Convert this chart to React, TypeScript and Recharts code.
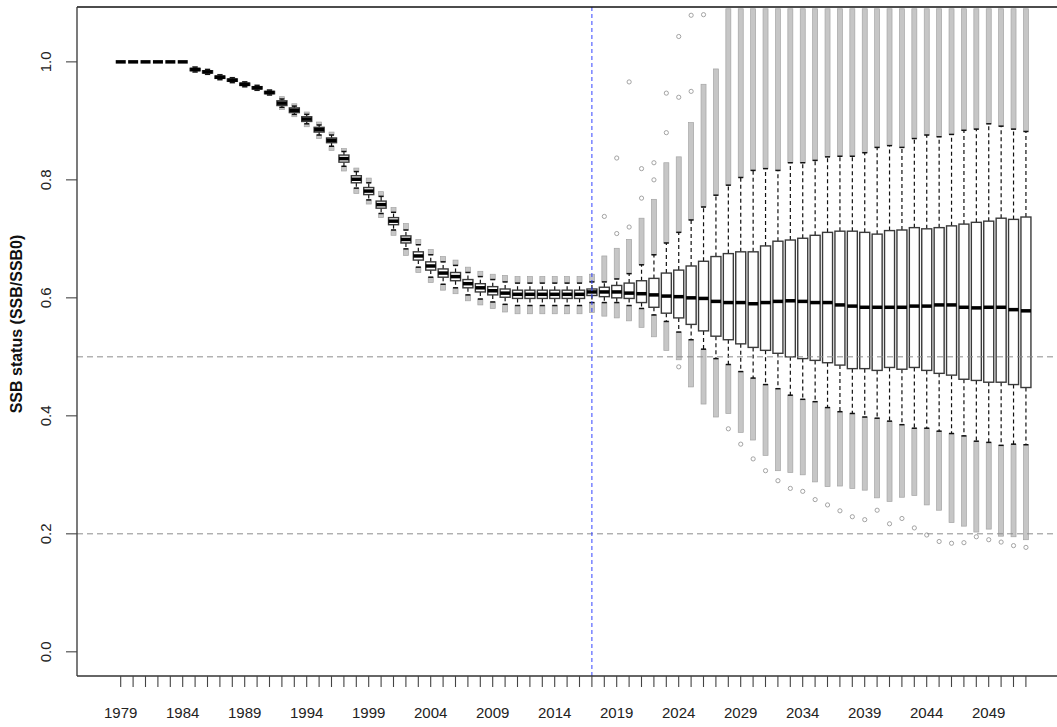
import { ComposedChart, Bar, XAxis, YAxis, ReferenceLine } from "recharts";

const YEARS = Array.from({ length: 74 }, (_, i) => 1979 + i);

// SSB/SSB0 quantiles by year (historic fit 1979-2016, projection 2017-2052)
const MEDIAN = [
  1.0, 1.0, 1.0, 1.0, 1.0, 1.0,
  0.987, 0.983, 0.974, 0.969, 0.962, 0.956, 0.948,
  0.93, 0.918, 0.903, 0.885, 0.867,
  0.836, 0.801, 0.781, 0.758, 0.73, 0.699,
  0.671, 0.654, 0.642, 0.636, 0.624, 0.617, 0.612, 0.608, 0.606, 0.606, 0.606, 0.606, 0.606, 0.606,
  0.61, 0.61, 0.61, 0.608, 0.607, 0.605, 0.603, 0.602, 0.6, 0.599,
  0.594, 0.592, 0.592, 0.59, 0.592, 0.594, 0.595, 0.594, 0.592, 0.592,
  0.588, 0.586, 0.584, 0.584, 0.584, 0.584, 0.586, 0.586, 0.588, 0.588,
  0.584, 0.583, 0.584, 0.584, 0.58, 0.578,
];

const Q3 = [
  1.0, 1.0, 1.0, 1.0, 1.0, 1.0,
  0.989, 0.985, 0.976, 0.971, 0.964, 0.958, 0.95,
  0.934, 0.922, 0.907, 0.889, 0.871,
  0.842, 0.807, 0.787, 0.764, 0.736, 0.705,
  0.678, 0.661, 0.649, 0.643, 0.631, 0.624, 0.619, 0.615, 0.613, 0.613, 0.613, 0.613, 0.613, 0.613,
  0.615, 0.618, 0.621, 0.625, 0.629, 0.633, 0.642, 0.647, 0.654, 0.662,
  0.67, 0.675, 0.678, 0.678, 0.688, 0.696, 0.698, 0.701, 0.706, 0.711,
  0.713, 0.713, 0.711, 0.708, 0.714, 0.715, 0.719, 0.717, 0.719, 0.722,
  0.725, 0.728, 0.73, 0.735, 0.733, 0.737,
];

const Q1 = [
  1.0, 1.0, 1.0, 1.0, 1.0, 1.0,
  0.985, 0.981, 0.972, 0.967, 0.96, 0.954, 0.946,
  0.926, 0.914, 0.899, 0.881, 0.863,
  0.83, 0.795, 0.775, 0.752, 0.724, 0.693,
  0.664, 0.647, 0.635, 0.629, 0.617, 0.61, 0.605, 0.601, 0.599, 0.599, 0.599, 0.599, 0.599, 0.599,
  0.604, 0.602, 0.6, 0.599, 0.592, 0.584, 0.574, 0.566, 0.555, 0.544,
  0.535, 0.529, 0.522, 0.516, 0.511, 0.506, 0.5, 0.497, 0.494, 0.49,
  0.486, 0.48, 0.48, 0.477, 0.482, 0.479, 0.482, 0.477, 0.472, 0.469,
  0.462, 0.46, 0.457, 0.457, 0.453, 0.448,
];

const WHISKER_HI = [
  1.0, 1.0, 1.0, 1.0, 1.0, 1.0,
  0.991, 0.987, 0.978, 0.973, 0.966, 0.96, 0.952,
  0.937, 0.925, 0.911, 0.893, 0.876,
  0.848, 0.814, 0.795, 0.772, 0.745, 0.715,
  0.69, 0.673, 0.661, 0.655, 0.643, 0.636, 0.631, 0.627, 0.625, 0.625, 0.625, 0.625, 0.625, 0.625,
  0.627, 0.627, 0.632, 0.641, 0.656, 0.673, 0.693, 0.711, 0.732, 0.754,
  0.774, 0.791, 0.804, 0.816, 0.819, 0.816, 0.829, 0.829, 0.833, 0.839,
  0.84, 0.84, 0.846, 0.855, 0.858, 0.855, 0.87, 0.876, 0.873, 0.877,
  0.884, 0.886, 0.895, 0.891, 0.886, 0.882,
];

const WHISKER_LO = [
  1.0, 1.0, 1.0, 1.0, 1.0, 1.0,
  0.983, 0.979, 0.97, 0.965, 0.958, 0.952, 0.944,
  0.923, 0.911, 0.895, 0.876, 0.857,
  0.823, 0.786, 0.766, 0.743, 0.715, 0.683,
  0.652, 0.635, 0.623, 0.617, 0.605, 0.598, 0.593, 0.589, 0.587, 0.587, 0.587, 0.587, 0.587, 0.587,
  0.592, 0.592, 0.592, 0.587, 0.582, 0.571, 0.56, 0.542, 0.529, 0.513,
  0.497, 0.487, 0.475, 0.464, 0.453, 0.446, 0.435, 0.428, 0.424, 0.414,
  0.407, 0.404, 0.398, 0.396, 0.391, 0.385, 0.379, 0.379, 0.374, 0.37,
  0.366, 0.357, 0.355, 0.35, 0.352, 0.351,
];

// extent of the dense run of outliers above / below the whiskers
const OUT_HI = [
  1.0, 1.0, 1.0, 1.0, 1.0, 1.0,
  0.992, 0.988, 0.979, 0.974, 0.967, 0.961, 0.953,
  0.941, 0.929, 0.915, 0.898, 0.881,
  0.853, 0.82, 0.803, 0.78, 0.753, 0.726,
  0.699, 0.682, 0.67, 0.664, 0.652, 0.645, 0.64, 0.638, 0.636, 0.636, 0.636, 0.636, 0.636, 0.636,
  0.64, 0.671, 0.684, 0.699, 0.735, 0.767, 0.829, 0.839, 0.897, 0.962,
  0.988, 1.09, 1.09, 1.09, 1.09, 1.09, 1.09, 1.09, 1.09, 1.09,
  1.09, 1.09, 1.09, 1.09, 1.09, 1.09, 1.09, 1.09, 1.09, 1.09,
  1.09, 1.09, 1.09, 1.09, 1.09, 1.09,
];

const OUT_LO = [
  1.0, 1.0, 1.0, 1.0, 1.0, 1.0,
  0.982, 0.978, 0.969, 0.964, 0.957, 0.951, 0.943,
  0.919, 0.907, 0.89, 0.87, 0.85,
  0.815, 0.777, 0.759, 0.736, 0.706, 0.672,
  0.643, 0.626, 0.613, 0.607, 0.595, 0.588, 0.582, 0.576, 0.573, 0.573, 0.573, 0.573, 0.573, 0.573,
  0.575, 0.569, 0.566, 0.561, 0.55, 0.534, 0.511, 0.495, 0.449, 0.42,
  0.398, 0.404, 0.372, 0.359, 0.333, 0.307, 0.304, 0.3, 0.288, 0.28,
  0.281, 0.277, 0.274, 0.261, 0.255, 0.262, 0.265, 0.249, 0.24, 0.219,
  0.213, 0.203, 0.208, 0.196, 0.195, 0.19,
];

// isolated extreme outliers [year, value]
const SPARSE: [number, number][] = [
  [2018, 0.738], [2019, 0.709], [2019, 0.837], [2020, 0.72], [2020, 0.966],
  [2021, 0.769], [2021, 0.819], [2022, 0.8], [2022, 0.829], [2023, 0.88],
  [2023, 0.947], [2024, 0.94], [2024, 1.043], [2024, 0.483], [2025, 0.95],
  [2025, 1.079], [2026, 1.08], [2028, 0.378], [2029, 0.352], [2030, 0.327],
  [2031, 0.307], [2032, 0.29], [2033, 0.277], [2034, 0.272], [2035, 0.258],
  [2036, 0.249], [2037, 0.239], [2038, 0.229], [2039, 0.224], [2040, 0.24],
  [2041, 0.217], [2042, 0.226], [2043, 0.21], [2044, 0.198], [2045, 0.187],
  [2046, 0.184], [2047, 0.185], [2048, 0.195], [2049, 0.19], [2050, 0.186],
  [2051, 0.18], [2052, 0.177],
];

const Y_TICKS = [0, 0.2, 0.4, 0.6, 0.8, 1.0];
const LIMIT_LINES = [0.5, 0.2];
const PROJECTION_START = 2017;

const Y_MIN = -0.041;
const Y_MAX = 1.093;

const FONT = "'Liberation Sans', Arial, Helvetica, sans-serif";

const rows = YEARS.map((year, i) => ({
  year,
  med: MEDIAN[i],
  q1: Q1[i],
  q3: Q3[i],
  wlo: WHISKER_LO[i],
  whi: WHISKER_HI[i],
  olo: OUT_LO[i],
  ohi: OUT_HI[i],
  extra: SPARSE.filter((p) => p[0] === year).map((p) => p[1]),
  span: [Y_MIN, Y_MAX],
}));

function BoxShape(props: any) {
  const { x, y, width, height, payload } = props;
  const py = (v: number) => y + (height * (Y_MAX - v)) / (Y_MAX - Y_MIN);
  const cx = x + width / 2;
  const half = 5;
  const d = payload;
  const band = 2.5;
  return (
    <g>
      {d.ohi > d.whi && (
        <rect
          x={cx - band}
          y={py(d.ohi)}
          width={band * 2}
          height={py(d.whi) - py(d.ohi)}
          fill="#c6c6c6"
          stroke="#a4a4a4"
          strokeWidth={0.7}
        />
      )}
      {d.olo < d.wlo && (
        <rect
          x={cx - band}
          y={py(d.wlo)}
          width={band * 2}
          height={py(d.olo) - py(d.wlo)}
          fill="#c6c6c6"
          stroke="#a4a4a4"
          strokeWidth={0.7}
        />
      )}
      {d.extra.map((v: number, k: number) => (
        <circle key={k} cx={cx} cy={py(v)} r={2.1} fill="none" stroke="#9a9a9a" strokeWidth={0.9} />
      ))}
      {d.whi > d.q3 && (
        <>
          <line x1={cx} x2={cx} y1={py(d.q3)} y2={py(d.whi)} stroke="#111" strokeDasharray="4 3" strokeWidth={1.2} />
          <line x1={cx - 2.5} x2={cx + 2.5} y1={py(d.whi)} y2={py(d.whi)} stroke="#111" strokeWidth={1.5} />
        </>
      )}
      {d.wlo < d.q1 && (
        <>
          <line x1={cx} x2={cx} y1={py(d.q1)} y2={py(d.wlo)} stroke="#111" strokeDasharray="4 3" strokeWidth={1.2} />
          <line x1={cx - 2.5} x2={cx + 2.5} y1={py(d.wlo)} y2={py(d.wlo)} stroke="#111" strokeWidth={1.5} />
        </>
      )}
      {d.q3 > d.q1 && (
        <rect
          x={cx - half}
          y={py(d.q3)}
          width={half * 2}
          height={py(d.q1) - py(d.q3)}
          fill="#fff"
          stroke="#3a3a3a"
          strokeWidth={1.4}
        />
      )}
      <line x1={cx - half} x2={cx + half} y1={py(d.med)} y2={py(d.med)} stroke="#000" strokeWidth={3.5} />
    </g>
  );
}

function YearTick(props: any) {
  const { x, y, payload } = props;
  if ((payload.value - 1979) % 5 !== 0) return <g />;
  return (
    <text x={x} y={y + 29} textAnchor="middle" fontSize={15} fontFamily={FONT} fill="#222">
      {payload.value}
    </text>
  );
}

function ValueTick(props: any) {
  const { x, y, payload } = props;
  const tx = x - 19;
  return (
    <text
      transform={`translate(${tx},${y}) rotate(-90)`}
      textAnchor="middle"
      dominantBaseline="central"
      fontSize={15}
      fontFamily={FONT}
      fill="#222"
    >
      {Number(payload.value).toFixed(1)}
    </text>
  );
}

export default function App() {
  return (
    <div style={{ position: "absolute", left: 0, top: 0, width: 1057, height: 727, overflow: "hidden", background: "#fff" }}>
      <ComposedChart
        width={1057}
        height={727}
        data={rows}
        margin={{ top: 7, right: 0, bottom: 6, left: 17 }}
        barCategoryGap="10%"
      >
        <XAxis
          dataKey="year"
          type="category"
          interval={0}
          tick={<YearTick />}
          tickSize={11}
          tickLine={{ stroke: "#444", strokeWidth: 1.1 }}
          axisLine={{ stroke: "#333", strokeWidth: 1.3 }}
          height={45}
          padding={{ left: 37.5, right: 24.9 }}
        />
        <YAxis
          type="number"
          domain={[Y_MIN, Y_MAX]}
          ticks={Y_TICKS}
          width={60}
          tick={<ValueTick />}
          tickSize={11}
          tickLine={{ stroke: "#444", strokeWidth: 1.1 }}
          axisLine={{ stroke: "#333", strokeWidth: 1.3 }}
          allowDataOverflow
        />
        <Bar dataKey="span" shape={<BoxShape />} isAnimationActive={false} fill="none" />
        {LIMIT_LINES.map((v) => (
          <ReferenceLine key={v} y={v} stroke="#8c8c8c" strokeDasharray="6 4" strokeWidth={1} />
        ))}
        <ReferenceLine x={PROJECTION_START} stroke="#3344ff" strokeDasharray="4 3" strokeWidth={1} />
        <ReferenceLine y={Y_MAX} stroke="#111" strokeWidth={1.5} />
      </ComposedChart>
      <div
        style={{
          position: "absolute",
          left: 17,
          top: 324,
          transform: "translate(-50%, -50%) rotate(-90deg)",
          whiteSpace: "nowrap",
          fontFamily: FONT,
          fontWeight: "bold",
          fontSize: 16,
          color: "#111",
        }}
      >
        SSB status (SSB/SSB0)
      </div>
    </div>
  );
}
